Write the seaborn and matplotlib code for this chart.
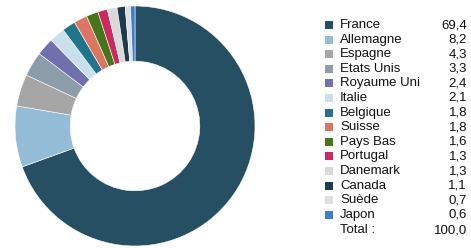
import matplotlib
matplotlib.use("Agg")
import matplotlib.pyplot as plt
import seaborn as sns
from matplotlib.patches import Rectangle

# Data
countries = ["France", "Allemagne", "Espagne", "Etats Unis", "Royaume Uni", "Italie",
             "Belgique", "Suisse", "Pays Bas", "Portugal", "Danemark", "Canada",
             "Suède", "Japon"]
shares = [69.4, 8.2, 4.3, 3.3, 2.4, 2.1, 1.8, 1.8, 1.6, 1.3, 1.3, 1.1, 0.7, 0.6]
total = 100.0
colors = ["#264f63", "#94bcd6", "#a6a6a6", "#8c9ca8", "#6f70ad", "#c9dfec",
          "#21748a", "#dd7563", "#47751a", "#cc2a5e", "#d9d9d9", "#1e3a4e",
          "#dedede", "#3a7fd0"]

sns.set_theme(style="white")
plt.rcParams['font.family'] = ['Liberation Sans', 'DejaVu Sans']

fig = plt.figure(figsize=(4.71, 2.48), dpi=100)
W, H = 471, 248

# Donut
ax = fig.add_axes([(135 - 120) / W, (122 - 120) / H, 240 / W, 240 / H])
ax.pie(shares, colors=colors, startangle=90, counterclock=False, radius=1,
       wedgeprops=dict(width=0.46, edgecolor="white", linewidth=0.4))
ax.set_xlim(-1, 1)
ax.set_ylim(-1, 1)
ax.set_aspect("equal")
ax.axis("off")

# Legend with values
y0 = 25
step = 14.6
for i, (name, val, col) in enumerate(zip(countries, shares, colors)):
    y = y0 + i * step
    fig.patches.append(Rectangle(((325) / W, 1 - (y + 4) / H), 8 / W, 8 / H,
                                 transform=fig.transFigure, facecolor=col,
                                 edgecolor="none"))
    fig.text(340 / W, 1 - y / H, name, fontsize=9.5, va="center", ha="left", color="#111111")
    fig.text(467 / W, 1 - y / H, f"{val:.1f}".replace(".", ","), fontsize=9.5,
             va="center", ha="right", color="#111111")

y = y0 + len(countries) * step + 1
fig.text(340 / W, 1 - y / H, "Total :", fontsize=9.5, va="center", ha="left", color="#111111")
fig.text(467 / W, 1 - y / H, f"{total:.1f}".replace(".", ","), fontsize=9.5,
         va="center", ha="right", color="#111111")

fig.savefig("out.png", dpi=100)
